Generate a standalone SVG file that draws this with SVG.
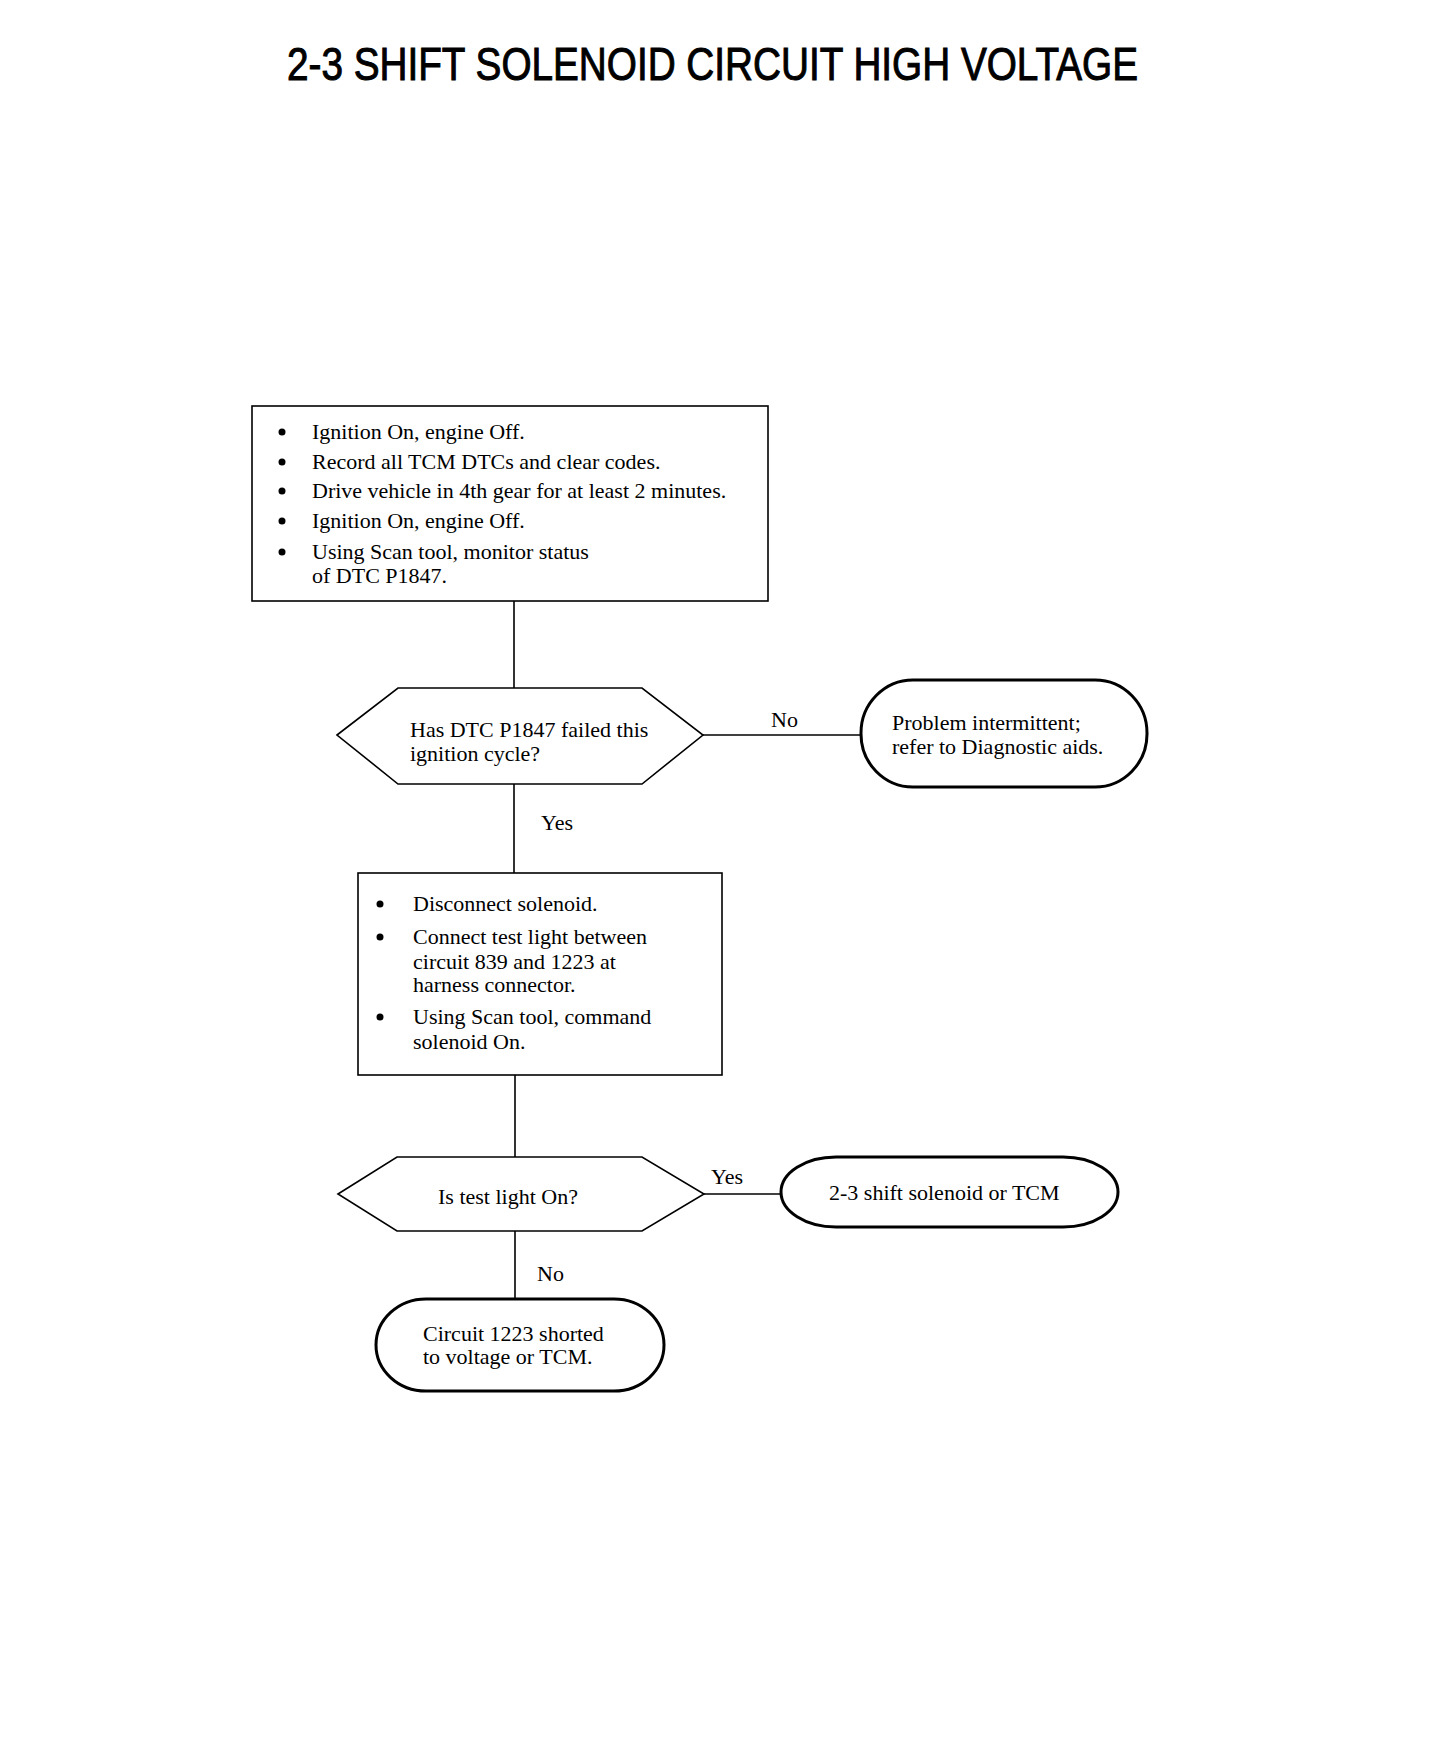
<svg xmlns="http://www.w3.org/2000/svg" width="1456" height="1742" viewBox="0 0 1456 1742">
<style>
.t{font-family:"Liberation Serif","Times New Roman",serif;font-size:22px;fill:#000}
.box{fill:#fff;stroke:#000;stroke-width:1.6}
.term{fill:#fff;stroke:#000;stroke-width:3}
.ln{stroke:#000;stroke-width:1.6;fill:none}
.title{font-family:"Liberation Sans",Arial,sans-serif;font-size:46px;font-weight:normal;fill:#000;stroke:#000;stroke-width:1}
</style>
<rect width="1456" height="1742" fill="#fff"/>
<text class="title" x="287" y="80" textLength="851" lengthAdjust="spacingAndGlyphs">2-3 SHIFT SOLENOID CIRCUIT HIGH VOLTAGE</text>
<g id="connectors">
<line class="ln" x1="514" y1="601" x2="514" y2="688"/>
<line class="ln" x1="703" y1="735" x2="861" y2="735"/>
<text class="t" x="771" y="727">No</text>
<line class="ln" x1="514" y1="784" x2="514" y2="873"/>
<text class="t" x="541" y="830">Yes</text>
<line class="ln" x1="515" y1="1075" x2="515" y2="1157"/>
<line class="ln" x1="704" y1="1194" x2="781" y2="1194"/>
<text class="t" x="711" y="1184">Yes</text>
<line class="ln" x1="515" y1="1231" x2="515" y2="1299"/>
<text class="t" x="537" y="1281">No</text>
</g>
<g id="box1">
<rect class="box" x="252" y="406" width="516" height="195"/>
<circle cx="282" cy="432" r="3.5"/>
<text class="t" x="312" y="439">Ignition On, engine Off.</text>
<circle cx="282" cy="462" r="3.5"/>
<text class="t" x="312" y="469">Record all TCM DTCs and clear codes.</text>
<circle cx="282" cy="491" r="3.5"/>
<text class="t" x="312" y="498">Drive vehicle in 4th gear for at least 2 minutes.</text>
<circle cx="282" cy="521" r="3.5"/>
<text class="t" x="312" y="528">Ignition On, engine Off.</text>
<circle cx="282" cy="552" r="3.5"/>
<text class="t" x="312" y="559">Using Scan tool, monitor status</text>
<text class="t" x="312" y="583">of DTC P1847.</text>
</g>
<g id="decision1">
<polygon class="box" points="337,735 398,688 642,688 703,735 642,784 398,784"/>
<text class="t" x="410" y="737">Has DTC P1847 failed this</text>
<text class="t" x="410" y="761">ignition cycle?</text>
</g>
<g id="term1">
<rect class="term" x="861" y="680" width="286" height="107" rx="52" ry="53"/>
<text class="t" x="892" y="730">Problem intermittent;</text>
<text class="t" x="892" y="754">refer to Diagnostic aids.</text>
</g>
<g id="box2">
<rect class="box" x="358" y="873" width="364" height="202"/>
<circle cx="380" cy="904" r="3.5"/>
<text class="t" x="413" y="911">Disconnect solenoid.</text>
<circle cx="380" cy="937" r="3.5"/>
<text class="t" x="413" y="944">Connect test light between</text>
<text class="t" x="413" y="969">circuit 839 and 1223 at</text>
<text class="t" x="413" y="992">harness connector.</text>
<circle cx="380" cy="1017" r="3.5"/>
<text class="t" x="413" y="1024">Using Scan tool, command</text>
<text class="t" x="413" y="1049">solenoid On.</text>
</g>
<g id="decision2">
<polygon class="box" points="338,1194 397,1157 642,1157 704,1194 642,1231 397,1231"/>
<text class="t" x="438" y="1204">Is test light On?</text>
</g>
<g id="term2">
<rect class="term" x="781" y="1157" width="337" height="70" rx="55" ry="35"/>
<text class="t" x="829" y="1200">2-3 shift solenoid or TCM</text>
</g>
<g id="term3">
<rect class="term" x="376" y="1299" width="288" height="92" rx="50" ry="46"/>
<text class="t" x="423" y="1341">Circuit 1223 shorted</text>
<text class="t" x="423" y="1364">to voltage or TCM.</text>
</g>
</svg>
